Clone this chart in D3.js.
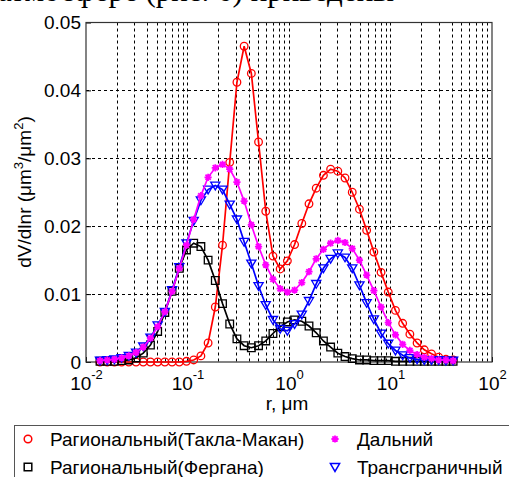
<!DOCTYPE html>
<html>
<head>
<meta charset="utf-8">
<script src="https://cdnjs.cloudflare.com/ajax/libs/d3/7.8.5/d3.min.js"></script>
<style>
  body { margin: 0; background: #fff; }
  svg { display: block; }
  text { font-family: "Liberation Sans", Arial, sans-serif; fill: #000; }
</style>
</head>
<body>
<div id="chart"></div>
<script>
// ---------------------------- DATA ----------------------------- //
const radius = [0.01374, 0.01618, 0.01905, 0.02244, 0.02642, 0.03112, 0.03664, 0.04315, 0.05082, 0.05984,
  0.07047, 0.08299, 0.09772, 0.1151, 0.1355, 0.1596, 0.1879, 0.2213, 0.2606, 0.3069,
  0.3614, 0.4256, 0.5012, 0.5902, 0.6950, 0.8185, 0.9638, 1.135, 1.337, 1.574,
  1.854, 2.183, 2.570, 3.027, 3.565, 4.198, 4.943, 5.821, 6.855, 8.072,
  9.506, 11.19, 13.18, 15.52, 18.28, 21.53, 25.35, 29.85, 35.16, 41.40];

const taklaMakan = [0, 0, 0, 0, 0, 0, 0, 0, 0, 0,
  0, 0, 0.0001, 0.0003, 0.0009, 0.0028, 0.0081, 0.0172, 0.0294, 0.0412,
  0.0465, 0.0425, 0.0324, 0.0222, 0.0156, 0.0137, 0.0149, 0.0173, 0.0204, 0.0233,
  0.0256, 0.0275, 0.0284, 0.0281, 0.0271, 0.0250, 0.0225, 0.0194, 0.0162, 0.0132,
  0.0103, 0.0076, 0.0057, 0.0041, 0.0028, 0.0018, 0.0012, 0.0007, 0.0004, 0.0003];

const fergana = [0.0001, 0.0001, 0.0001, 0.0002, 0.0003, 0.0006, 0.0013, 0.0025, 0.0045, 0.0073,
  0.0104, 0.0138, 0.0165, 0.0175, 0.0170, 0.0150, 0.0120, 0.0086, 0.0056, 0.0034,
  0.0024, 0.0021, 0.0024, 0.0031, 0.0042, 0.0052, 0.0059, 0.0062, 0.0060, 0.0053,
  0.0043, 0.0031, 0.0022, 0.0013, 0.0008, 0.0005, 0.0003, 0.0003, 0.0002, 0.0002,
  0.0002, 0.0001, 0.0001, 0.0001, 0.0001, 0.0001, 0.0001, 0.0001, 0.0001, 0.0001];

const dalniy = [0.0002, 0.0003, 0.0004, 0.0006, 0.0009, 0.0014, 0.0022, 0.0035, 0.0052, 0.0074,
  0.0104, 0.0138, 0.0172, 0.0210, 0.0245, 0.0272, 0.0286, 0.0291, 0.0284, 0.0265,
  0.0237, 0.0202, 0.0170, 0.0143, 0.0122, 0.0108, 0.0103, 0.0106, 0.0117, 0.0133,
  0.0152, 0.0166, 0.0175, 0.0179, 0.0176, 0.0167, 0.0150, 0.0128, 0.0105, 0.0081,
  0.0058, 0.0040, 0.0026, 0.0017, 0.0011, 0.0007, 0.0005, 0.0003, 0.0003, 0.0002];

const transgran = [0.0002, 0.0003, 0.0004, 0.0006, 0.0009, 0.0014, 0.0023, 0.0036, 0.0054, 0.0074,
  0.0106, 0.0140, 0.0175, 0.0208, 0.0238, 0.0254, 0.0260, 0.0254, 0.0232, 0.0210,
  0.0177, 0.0145, 0.0112, 0.0084, 0.0062, 0.0049, 0.0046, 0.0056, 0.0070, 0.0090,
  0.0115, 0.0138, 0.0152, 0.0160, 0.0154, 0.0138, 0.0113, 0.0087, 0.0063, 0.0042,
  0.0027, 0.0017, 0.0010, 0.0006, 0.0004, 0.0003, 0.0003, 0.0003, 0.0002, 0.0002];

const xTickValues = [0.01, 0.1, 1, 10, 100];
const xTickExponents = ["-2", "-1", "0", "1", "2"];
const yTickValues = [0, 0.01, 0.02, 0.03, 0.04, 0.05];
const yTickLabels = ["0", "0.01", "0.02", "0.03", "0.04", "0.05"];

const seriesNames = ["Рагиональный(Такла-Макан)", "Рагиональный(Фергана)", "Дальний", "Трансграничный"];

// --------------------------- LAYOUT ---------------------------- //
const width = 509;
const height = 477;
const plotLeft = 86, plotRight = 492, plotTop = 22.5, plotBottom = 362;
const fontSize = "19px";
const supSize = "13px";

const svg = d3.select("#chart").append("svg")
  .attr("width", width)
  .attr("height", height);

// cut-off line of the surrounding document text
svg.append("text")
  .attr("x", -2)
  .attr("y", 1)
  .style("font-family", "'Liberation Serif', 'Times New Roman', serif")
  .style("font-size", "31px")
  .text("атмосфере (рис. 6) приведены");

//----------------------------SCALES-----------------------------//
const xScale = d3.scaleLog().domain([0.01, 100]).range([plotLeft, plotRight]);
const yScale = d3.scaleLinear().domain([0, 0.05]).range([plotBottom, plotTop]);

//----------------------------GRID-------------------------------//
const grid = svg.append("g")
  .attr("stroke", "#000")
  .attr("stroke-width", 1)
  .attr("stroke-dasharray", "3,3")
  .attr("fill", "none");

grid.selectAll("line.vx")
  .data(xScale.ticks().filter(d => d > 0.01 && d < 100))
  .enter().append("line")
  .attr("class", "vx")
  .attr("x1", d => Math.round(xScale(d)) + 0.5)
  .attr("x2", d => Math.round(xScale(d)) + 0.5)
  .attr("y1", plotTop)
  .attr("y2", plotBottom);

grid.selectAll("line.hy")
  .data(yTickValues.filter(d => d > 0 && d < 0.05))
  .enter().append("line")
  .attr("class", "hy")
  .attr("x1", plotLeft)
  .attr("x2", plotRight)
  .attr("y1", d => Math.round(yScale(d)) + 0.5)
  .attr("y2", d => Math.round(yScale(d)) + 0.5);

//-----------------------------AXES------------------------------//
const yaxis = d3.axisLeft(yScale)
  .tickValues(yTickValues)
  .tickSize(-5)
  .tickPadding(5)
  .tickFormat((d, i) => yTickLabels[i]);

const ya = svg.append("g")
  .attr("transform", "translate(" + plotLeft + ",0)")
  .call(yaxis);
ya.select(".domain").remove();
ya.selectAll("text").style("font-size", fontSize).style("font-family", "'Liberation Sans', Arial, sans-serif");

const xaxis = d3.axisBottom(xScale)
  .tickValues(xTickValues)
  .tickSize(-5)
  .tickPadding(10)
  .tickFormat("");

const xa = svg.append("g")
  .attr("transform", "translate(0," + plotBottom + ")")
  .call(xaxis);
xa.select(".domain").remove();

xa.selectAll(".tick text")
  .attr("dy", "0.95em")
  .style("font-size", fontSize)
  .style("font-family", "'Liberation Sans', Arial, sans-serif")
  .each(function (d, i) {
    const t = d3.select(this);
    t.append("tspan").text("10");
    t.append("tspan").attr("dy", -11).style("font-size", supSize).text(xTickExponents[i]);
  });

// frame
svg.append("rect")
  .attr("x", plotLeft)
  .attr("y", plotTop)
  .attr("width", plotRight - plotLeft)
  .attr("height", plotBottom - plotTop)
  .attr("fill", "none")
  .attr("stroke", "#333")
  .attr("stroke-width", 1.2);

// axis labels
svg.append("text")
  .attr("x", 287)
  .attr("y", 410)
  .attr("text-anchor", "middle")
  .style("font-size", fontSize)
  .text("r, μm");

const ylab = svg.append("text")
  .attr("transform", "translate(31,192) rotate(-90)")
  .attr("text-anchor", "middle")
  .style("font-size", fontSize);
ylab.append("tspan").text("dV/dlnr (μm");
ylab.append("tspan").attr("dy", -8).style("font-size", supSize).text("3");
ylab.append("tspan").attr("dy", 8).text("/μm");
ylab.append("tspan").attr("dy", -8).style("font-size", supSize).text("2");
ylab.append("tspan").attr("dy", 8).text(")");

//----------------------------LINES------------------------------//
const markerPath = {
  circle: "M3.8,0A3.8,3.8 0 1,1 -3.8,0A3.8,3.8 0 1,1 3.8,0Z",
  square: "M-3.8,-3.8H3.8V3.8H-3.8Z",
  triangle: "M-4.6,-3.4H4.6L0,4.4Z",
  star: "M-3.6,0H3.6M0,-3.6V3.6M-2.6,-2.6L2.6,2.6M-2.6,2.6L2.6,-2.6"
};

const series = [
  { name: seriesNames[0], values: taklaMakan, color: "#ff0000", marker: "circle" },
  { name: seriesNames[1], values: fergana, color: "#000000", marker: "square" },
  { name: seriesNames[3], values: transgran, color: "#0000ff", marker: "triangle" },
  { name: seriesNames[2], values: dalniy, color: "#ff00ff", marker: "star" }
];

const line = d3.line()
  .x((d, i) => xScale(radius[i]))
  .y(d => yScale(d));

const lines = svg.selectAll("g.serie")
  .data(series)
  .enter()
  .append("g")
  .attr("class", "serie");

lines.append("path")
  .attr("fill", "none")
  .attr("stroke", d => d.color)
  .attr("stroke-width", 1.7)
  .attr("d", d => line(d.values));

lines.each(function (s) {
  d3.select(this).selectAll("path.mk")
    .data(s.values)
    .enter().append("path")
    .attr("class", "mk")
    .attr("transform", (d, i) => "translate(" + xScale(radius[i]) + "," + yScale(d) + ")")
    .attr("d", markerPath[s.marker])
    .attr("fill", "none")
    .attr("stroke", s.color)
    .attr("stroke-width", s.marker === "star" ? 1.8 : 1.3);
});

//----------------------------LEGEND-----------------------------//
svg.append("rect")
  .attr("x", 14.5)
  .attr("y", 425.5)
  .attr("width", 510)
  .attr("height", 70)
  .attr("fill", "#fff")
  .attr("stroke", "#555")
  .attr("stroke-width", 1);

const legendItems = [
  { name: seriesNames[0], color: "#ff0000", marker: "circle", x: 28, y: 439 },
  { name: seriesNames[2], color: "#ff00ff", marker: "star", x: 335, y: 439 },
  { name: seriesNames[1], color: "#000000", marker: "square", x: 28, y: 467 },
  { name: seriesNames[3], color: "#0000ff", marker: "triangle", x: 335, y: 467 }
];

const leg = svg.selectAll("g.leg")
  .data(legendItems)
  .enter().append("g")
  .attr("class", "leg")
  .attr("transform", d => "translate(" + d.x + "," + d.y + ")");

leg.append("path")
  .attr("d", d => markerPath[d.marker])
  .attr("fill", "none")
  .attr("stroke", d => d.color)
  .attr("stroke-width", d => d.marker === "star" ? 1.8 : 1.5);

leg.append("text")
  .attr("x", 22)
  .attr("y", 7)
  .style("font-size", fontSize)
  .text(d => d.name);
</script>
</body>
</html>
